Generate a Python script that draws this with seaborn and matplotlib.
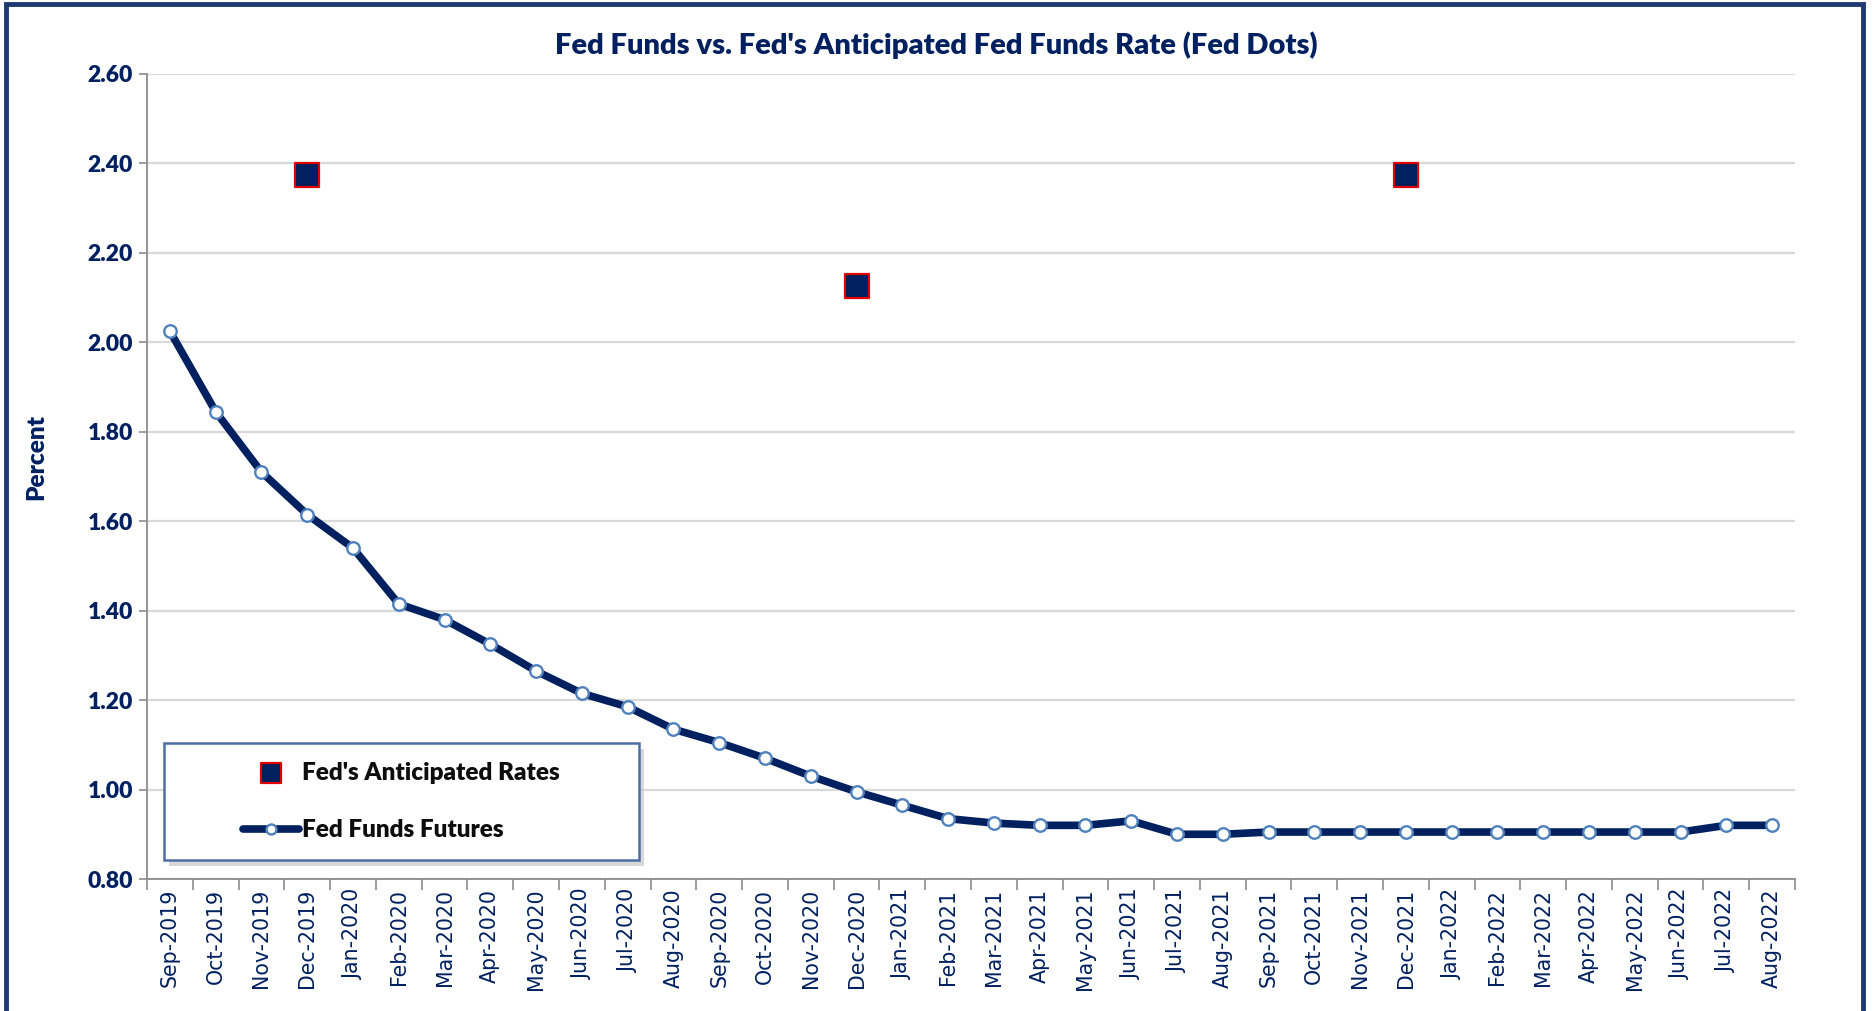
import numpy as np
import pandas as pd
import matplotlib
matplotlib.use("Agg")
import matplotlib.pyplot as plt
from matplotlib.patches import Rectangle
from matplotlib.ticker import FixedLocator, FuncFormatter
import seaborn as sns

# Monthly contract labels for the futures curve
months = [
    "Sep-2019", "Oct-2019", "Nov-2019", "Dec-2019",
    "Jan-2020", "Feb-2020", "Mar-2020", "Apr-2020", "May-2020", "Jun-2020",
    "Jul-2020", "Aug-2020", "Sep-2020", "Oct-2020", "Nov-2020", "Dec-2020",
    "Jan-2021", "Feb-2021", "Mar-2021", "Apr-2021", "May-2021", "Jun-2021",
    "Jul-2021", "Aug-2021", "Sep-2021", "Oct-2021", "Nov-2021", "Dec-2021",
    "Jan-2022", "Feb-2022", "Mar-2022", "Apr-2022", "May-2022", "Jun-2022",
    "Jul-2022", "Aug-2022",
]

# Implied rate from fed funds futures (percent)
futures = [
    2.025, 1.845, 1.710, 1.615, 1.540, 1.415, 1.380, 1.325, 1.265, 1.215,
    1.185, 1.135, 1.105, 1.070, 1.030, 0.995, 0.965, 0.935, 0.925, 0.920,
    0.920, 0.930, 0.900, 0.900, 0.905, 0.905, 0.905, 0.905, 0.905, 0.905,
    0.905, 0.905, 0.905, 0.905, 0.920, 0.920,
]

# FOMC median projections (dot plot) at year ends
dot_months = ["Dec-2019", "Dec-2020", "Dec-2021"]
dot_rates = [2.375, 2.125, 2.375]

y_ticks = [0.80, 1.00, 1.20, 1.40, 1.60, 1.80, 2.00, 2.20, 2.40, 2.60]

title = "Fed Funds vs. Fed's Anticipated Fed Funds Rate (Fed Dots)"
y_label = "Percent"
label_dots = "Fed's Anticipated Rates"
label_futures = "Fed Funds Futures"

NAVY = "#002060"
GRID = "#d9d9d9"
AXIS = "#8c8c8c"
BOLD_FONT = ["Lato", "DejaVu Sans"]

sns.set_theme(style="white")
plt.rcParams["font.family"] = ["DejaVu Sans"]

W, H = 1873, 1011
fig = plt.figure(figsize=(W / 100, H / 100), dpi=100)
ax = fig.add_axes([147 / W, 132 / H, (1795 - 147) / W, (879 - 74) / H])

df_fut = pd.DataFrame({"month": months, "rate": futures})
df_dots = pd.DataFrame({"month": dot_months, "rate": dot_rates})

# Futures line first, which also fixes the category order on x
sns.lineplot(
    data=df_fut, x="month", y="rate", sort=False, ax=ax,
    color=NAVY, linewidth=5.5, marker="o", markersize=9,
    markerfacecolor="white", markeredgecolor="#4f81bd", markeredgewidth=1.7,
    label=label_futures, zorder=3,
)
sns.scatterplot(
    data=df_dots, x="month", y="rate", ax=ax,
    marker="s", s=300, color=NAVY, edgecolor="#e00000", linewidth=1.6,
    label=label_dots, zorder=4,
)

ax.set_xlim(-0.5, len(months) - 0.5)
ax.set_ylim(0.8, 2.6)

# y axis
ax.yaxis.set_major_locator(FixedLocator(y_ticks))
ax.yaxis.set_major_formatter(FuncFormatter(lambda v, p: f"{v:.2f}"))
ax.tick_params(axis="y", which="major", direction="out", length=6, width=1.2,
               color=AXIS, pad=4, left=True)
for t in ax.get_yticklabels():
    t.set_fontfamily(BOLD_FONT)
    t.set_fontweight("heavy")
    t.set_fontsize(16.5)
    t.set_color(NAVY)

# x axis: labels at category centres, tick marks between categories
ax.set_xticks(range(len(months)))
ax.set_xticklabels(months, rotation=90, fontsize=14.8, color=NAVY)
ax.set_xticks(np.arange(-0.5, len(months), 1.0), minor=True)
ax.tick_params(axis="x", which="major", length=0, pad=7)
ax.tick_params(axis="x", which="minor", direction="out", length=8, width=1.2,
               color=AXIS, bottom=True)

ax.grid(axis="y", color=GRID, linewidth=1.6, zorder=0)
ax.grid(axis="x", visible=False)
ax.set_axisbelow(True)
for side in ("top", "right"):
    ax.spines[side].set_visible(False)
for side in ("left", "bottom"):
    ax.spines[side].set_color(AXIS)
    ax.spines[side].set_linewidth(1.3)

ax.set_xlabel("")
ax.set_ylabel("")
fig.text(36 / W, 1 - 457 / H, y_label, rotation=90, ha="center", va="center",
         fontsize=17.5, fontweight="heavy", color=NAVY, family=BOLD_FONT)

fig.text(0.5, 1 - 45 / H, title, ha="center", va="center",
         fontsize=21, fontweight="heavy", color=NAVY, family=BOLD_FONT)

# Legend: framed box with soft shadow, entries centred inside
if ax.get_legend():
    ax.get_legend().remove()
handles, labels = ax.get_legend_handles_labels()
order = [labels.index(label_dots), labels.index(label_futures)]
bx0, bx1 = 164 / W, 639 / W
by0, by1 = 1 - 860 / H, 1 - 743 / H
shadow = Rectangle((bx0 + 5 / W, by0 - 6 / H), bx1 - bx0, by1 - by0,
                   transform=fig.transFigure, facecolor="#bfbfbf",
                   edgecolor="none", alpha=0.6, zorder=5)
box = Rectangle((bx0, by0), bx1 - bx0, by1 - by0, transform=fig.transFigure,
                facecolor="white", edgecolor="#4a6fa5", linewidth=1.8, zorder=6)
fig.patches.extend([shadow, box])
leg = fig.legend(
    [handles[i] for i in order], [labels[i] for i in order],
    loc="center", bbox_to_anchor=((bx0 + bx1) / 2, (by0 + by1) / 2),
    bbox_transform=fig.transFigure, frameon=False,
    prop={"family": BOLD_FONT, "weight": "heavy", "size": 17.5},
    labelspacing=1.45, handlelength=2.3, handletextpad=0.1, markerscale=0.8,
)
leg.set_zorder(7)
for t in leg.get_texts():
    t.set_color("#0d0d0d")

# Outer navy frame around the whole chart
frame = Rectangle((6 / W, -0.02), (1863 - 6) / W, 1 - 4 / H + 0.02,
                  transform=fig.transFigure, facecolor="none",
                  edgecolor="#1f3a73", linewidth=3.5, zorder=10)
fig.patches.append(frame)

fig.savefig("out.png", dpi=100)
